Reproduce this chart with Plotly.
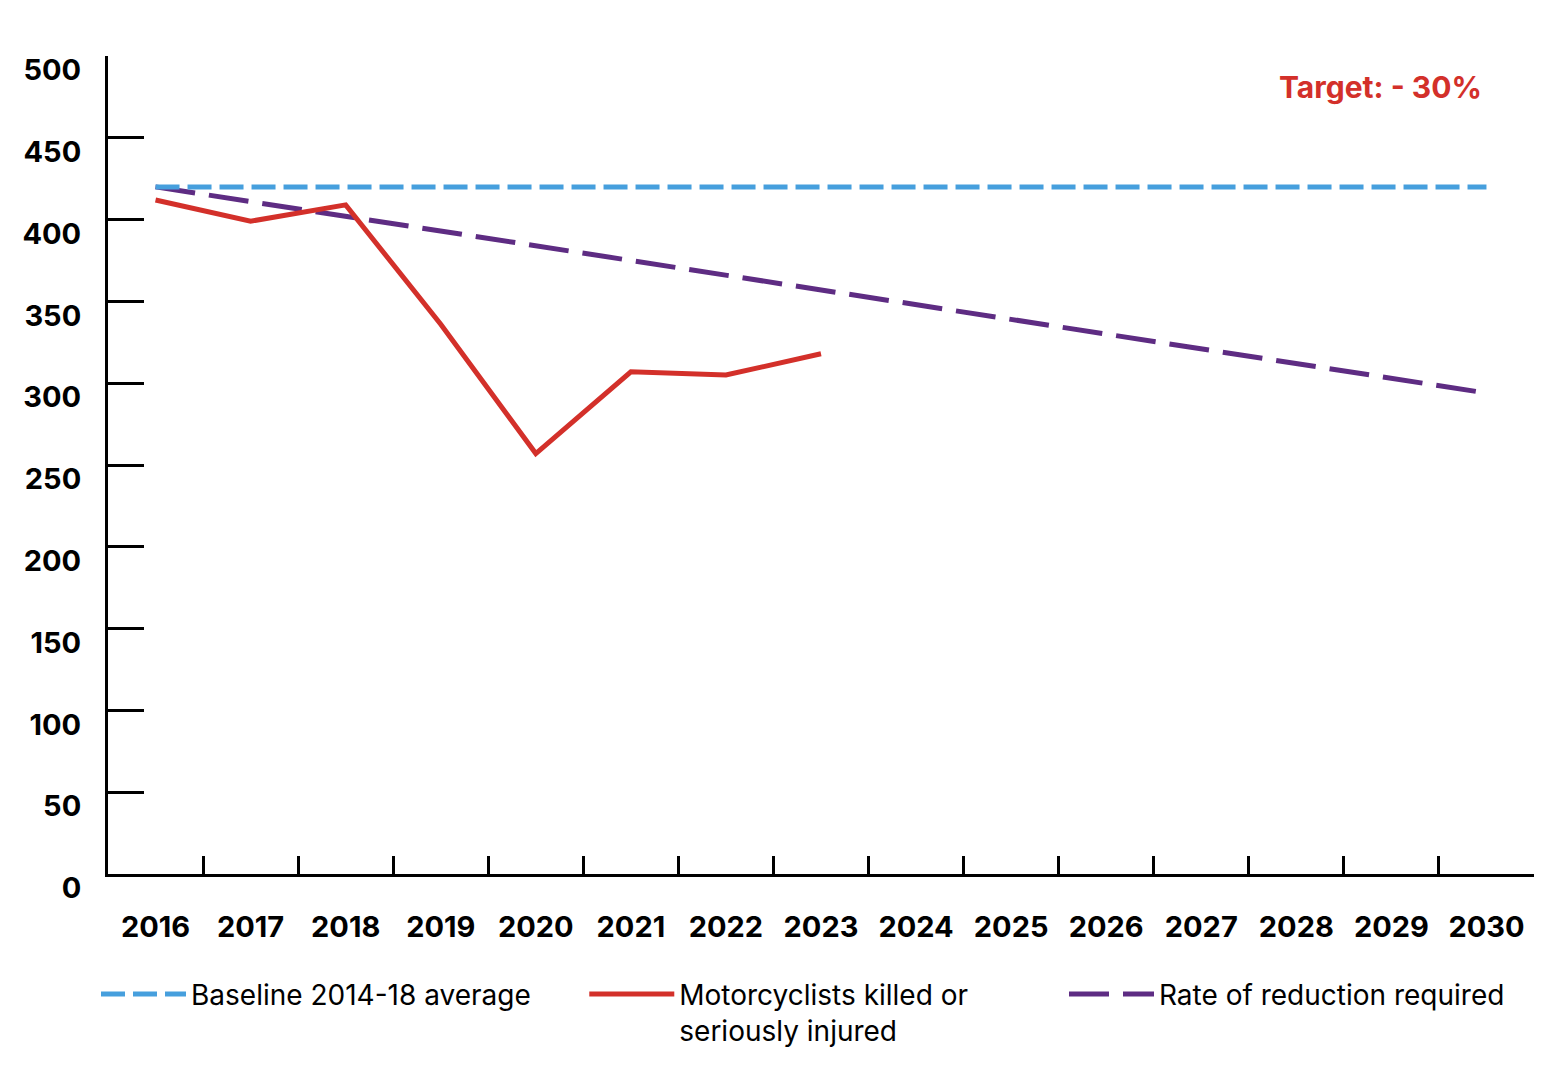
import plotly.graph_objects as go

years = [str(y) for y in range(2016, 2031)]
baseline = [420] * 15
ksi_years = [str(y) for y in range(2016, 2024)]
ksi = [412, 399, 409, 336, 257, 307, 305, 318]
reduction = [420, 411, 402, 393, 384, 375, 366, 357, 348, 339, 330, 321, 312, 303, 294]
y_ticks = [0, 50, 100, 150, 200, 250, 300, 350, 400, 450, 500]

BLUE = "#469fdd"
RED = "#d3302a"
PURPLE = "#5e2c83"
FONT = "Inter"

fig = go.Figure()
fig.add_trace(go.Scatter(x=years, y=reduction, mode="lines", name="Rate of reduction required",
                         line=dict(color=PURPLE, width=5, dash="40px,14px"), legend="legend3"))
fig.add_trace(go.Scatter(x=ksi_years, y=ksi, mode="lines", name="Motorcyclists killed or<br>seriously injured",
                         line=dict(color=RED, width=5), legend="legend2"))
fig.add_trace(go.Scatter(x=years, y=baseline, mode="lines", name="Baseline 2014-18 average",
                         line=dict(color=BLUE, width=5, dash="24px,8px"), legend="legend"))

fig.add_annotation(text="Target: - 30%", xref="paper", yref="paper", x=0.965, y=0.962,
                   xanchor="right", yanchor="middle", showarrow=False,
                   font=dict(family=FONT, size=30, color=RED, weight=700))

leg_common = dict(orientation="h", y=-0.1164, xanchor="left", yanchor="top",
                  font=dict(family=FONT, size=28, color="black"),
                  itemwidth=85, valign="top", itemclick=False, bgcolor="rgba(0,0,0,0)")

fig.update_layout(
    width=1560, height=1068,
    margin=dict(l=100, r=34, t=48, b=202),
    paper_bgcolor="white", plot_bgcolor="white",
    font=dict(family=FONT, color="black"),
    showlegend=True,
    legend=dict(x=-0.0084, **leg_common),
    legend2=dict(x=0.334, **leg_common),
    legend3=dict(x=0.6704, **leg_common),
    xaxis=dict(type="category", categoryorder="array", categoryarray=years,
               range=[-0.5, 14.5], showgrid=False, zeroline=False,
               showline=True, linecolor="black", linewidth=3,
               ticks="inside", tickson="boundaries", ticklen=18, tickwidth=3, tickcolor="black",
               tickfont=dict(family=FONT, size=29, color="black", weight=700),
               ticklabelstandoff=25),
    yaxis=dict(range=[0, 500], tickvals=y_ticks, ticktext=[str(v) for v in y_ticks],
               showgrid=False, zeroline=False,
               showline=True, linecolor="black", linewidth=3,
               ticks="inside", ticklen=36, tickwidth=3, tickcolor="black",
               tickfont=dict(family=FONT, size=29, color="black", weight=700),
               ticklabelshift=14, ticklabelstandoff=18),
)

fig.write_html("out.html")
